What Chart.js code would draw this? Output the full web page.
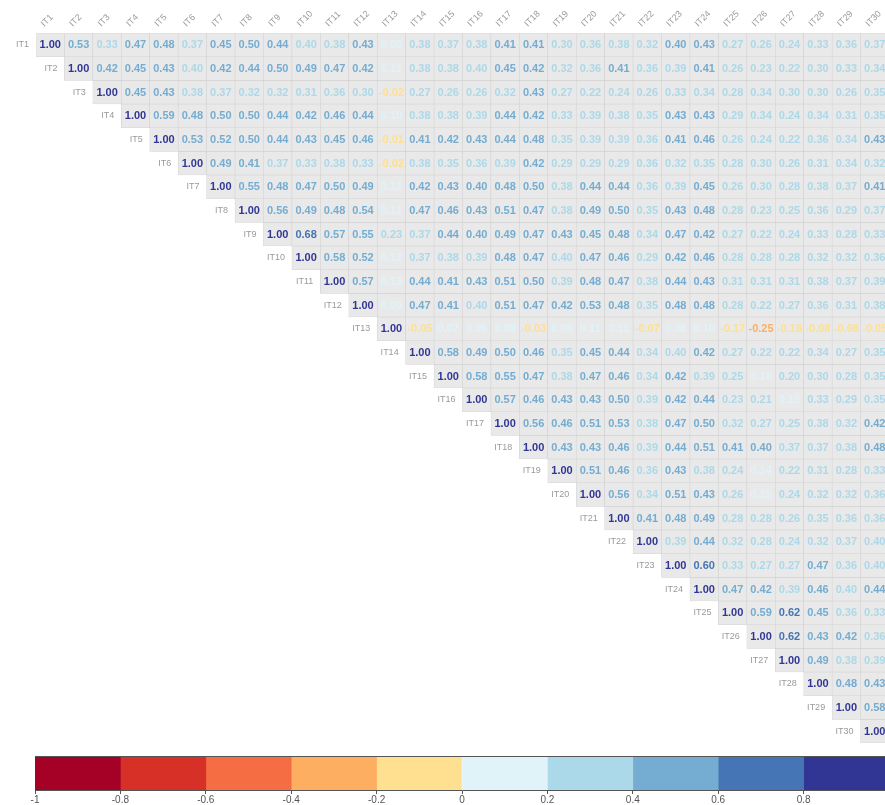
<!DOCTYPE html>
<html>
<head>
<meta charset="utf-8">
<script src="https://cdn.jsdelivr.net/npm/chart.js@4.4.1/dist/chart.umd.min.js"></script>
<style>
    html, body { margin: 0; padding: 0; background: #fff; overflow: hidden; }
    #wrap { position: relative; width: 885px; height: 805px; overflow: hidden; }
    .box { position: absolute; left: 0; }
</style>
</head>
<body>
<div id="wrap">
    <div class="box" style="top:0"><canvas id="corr" width="920" height="748"></canvas></div>
    <div class="box" style="top:745px"><canvas id="legend" width="920" height="60"></canvas></div>
</div>
<script>
// item names
var names = [];
for (var n = 1; n <= 30; n++) names.push("IT" + n);

// upper triangle, each row starts at its own diagonal
var it1 = [1.00, 0.53, 0.33, 0.47, 0.48, 0.37, 0.45, 0.50, 0.44, 0.396, 0.38, 0.43, 0.05, 0.38, 0.37, 0.38, 0.41, 0.41, 0.30, 0.36, 0.38, 0.32, 0.40, 0.43, 0.27, 0.26, 0.24, 0.33, 0.36, 0.37];
var it2 = [1.00, 0.42, 0.45, 0.43, 0.396, 0.42, 0.44, 0.50, 0.49, 0.47, 0.42, 0.11, 0.38, 0.38, 0.396, 0.45, 0.42, 0.32, 0.36, 0.41, 0.36, 0.39, 0.41, 0.26, 0.23, 0.22, 0.30, 0.33, 0.34];
var it3 = [1.00, 0.45, 0.43, 0.38, 0.37, 0.32, 0.32, 0.31, 0.36, 0.30, -0.02, 0.27, 0.26, 0.26, 0.32, 0.43, 0.27, 0.22, 0.24, 0.26, 0.33, 0.34, 0.28, 0.34, 0.30, 0.30, 0.26, 0.35];
var it4 = [1.00, 0.59, 0.48, 0.50, 0.50, 0.44, 0.42, 0.46, 0.44, 0.10, 0.38, 0.38, 0.39, 0.44, 0.42, 0.33, 0.39, 0.38, 0.35, 0.43, 0.43, 0.29, 0.34, 0.24, 0.34, 0.31, 0.35];
var it5 = [1.00, 0.53, 0.52, 0.50, 0.44, 0.43, 0.45, 0.46, -0.01, 0.41, 0.42, 0.43, 0.44, 0.48, 0.35, 0.39, 0.39, 0.36, 0.41, 0.46, 0.26, 0.24, 0.22, 0.36, 0.34, 0.43];
var it6 = [1.00, 0.49, 0.41, 0.37, 0.33, 0.38, 0.33, -0.02, 0.38, 0.35, 0.36, 0.39, 0.42, 0.29, 0.29, 0.29, 0.36, 0.32, 0.35, 0.28, 0.30, 0.26, 0.31, 0.34, 0.32];
var it7 = [1.00, 0.55, 0.48, 0.47, 0.50, 0.49, 0.12, 0.42, 0.43, 0.40, 0.48, 0.50, 0.38, 0.44, 0.44, 0.36, 0.39, 0.45, 0.26, 0.30, 0.28, 0.38, 0.37, 0.41];
var it8 = [1.00, 0.56, 0.49, 0.48, 0.54, 0.11, 0.47, 0.46, 0.43, 0.51, 0.47, 0.38, 0.49, 0.50, 0.35, 0.43, 0.48, 0.28, 0.23, 0.25, 0.36, 0.29, 0.37];
var it9 = [1.00, 0.68, 0.57, 0.55, 0.23, 0.37, 0.44, 0.40, 0.49, 0.47, 0.43, 0.45, 0.48, 0.34, 0.47, 0.42, 0.27, 0.22, 0.24, 0.33, 0.28, 0.33];
var it10 = [1.00, 0.58, 0.52, 0.12, 0.37, 0.38, 0.39, 0.48, 0.47, 0.396, 0.47, 0.46, 0.29, 0.42, 0.46, 0.28, 0.28, 0.28, 0.32, 0.32, 0.36];
var it11 = [1.00, 0.57, 0.13, 0.44, 0.41, 0.43, 0.51, 0.50, 0.39, 0.48, 0.47, 0.38, 0.44, 0.43, 0.31, 0.31, 0.31, 0.38, 0.37, 0.39];
var it12 = [1.00, 0.09, 0.47, 0.41, 0.396, 0.51, 0.47, 0.42, 0.53, 0.48, 0.35, 0.48, 0.48, 0.28, 0.22, 0.27, 0.36, 0.31, 0.38];
var it13 = [1.00, -0.05, 0.07, 0.05, 0.09, -0.03, 0.06, 0.11, 0.11, -0.07, 0.08, 0.10, -0.17, -0.25, -0.18, -0.08, -0.08, -0.05];
var it14 = [1.00, 0.58, 0.49, 0.50, 0.46, 0.35, 0.45, 0.44, 0.34, 0.396, 0.42, 0.27, 0.22, 0.22, 0.34, 0.27, 0.35];
var it15 = [1.00, 0.58, 0.55, 0.47, 0.38, 0.47, 0.46, 0.34, 0.42, 0.39, 0.25, 0.16, 0.20, 0.30, 0.28, 0.35];
var it16 = [1.00, 0.57, 0.46, 0.43, 0.43, 0.50, 0.39, 0.42, 0.44, 0.23, 0.21, 0.15, 0.33, 0.29, 0.35];
var it17 = [1.00, 0.56, 0.46, 0.51, 0.53, 0.38, 0.47, 0.50, 0.32, 0.27, 0.25, 0.38, 0.32, 0.42];
var it18 = [1.00, 0.43, 0.43, 0.46, 0.39, 0.44, 0.51, 0.41, 0.40, 0.37, 0.37, 0.38, 0.48];
var it19 = [1.00, 0.51, 0.46, 0.36, 0.43, 0.38, 0.24, 0.14, 0.22, 0.31, 0.28, 0.33];
var it20 = [1.00, 0.56, 0.34, 0.51, 0.43, 0.26, 0.15, 0.24, 0.32, 0.32, 0.36];
var it21 = [1.00, 0.41, 0.48, 0.49, 0.28, 0.28, 0.26, 0.35, 0.36, 0.36];
var it22 = [1.00, 0.39, 0.44, 0.32, 0.28, 0.24, 0.32, 0.37, 0.396];
var it23 = [1.00, 0.60, 0.33, 0.27, 0.27, 0.47, 0.36, 0.396];
var it24 = [1.00, 0.47, 0.42, 0.39, 0.46, 0.396, 0.44];
var it25 = [1.00, 0.59, 0.62, 0.45, 0.36, 0.33];
var it26 = [1.00, 0.62, 0.43, 0.42, 0.36];
var it27 = [1.00, 0.49, 0.38, 0.39];
var it28 = [1.00, 0.48, 0.43];
var it29 = [1.00, 0.58];
var it30 = [1.00];

// colour scale, -1 .. 1 in steps of 0.2
var legendBreaks = [-1, -0.8, -0.6, -0.4, -0.2, 0, 0.2, 0.4, 0.6, 0.8, 1];
var palette = ["#A50026", "#D73027", "#F46D43", "#FDAE61", "#FEE090", "#E0F3F8", "#ABD9E9", "#74ADD1", "#4575B4", "#313695"];

var rows = [it1, it2, it3, it4, it5, it6, it7, it8, it9, it10, it11, it12, it13, it14, it15,
    it16, it17, it18, it19, it20, it21, it22, it23, it24, it25, it26, it27, it28, it29, it30];

function colorFor(v) {
    var idx = Math.floor((v + 1) * 5 + 1e-9);
    if (idx > 9) idx = 9;
    if (idx < 0) idx = 0;
    return palette[idx];
}

var FONT = "'Liberation Sans', Arial, sans-serif";

// one floating-bar dataset per row, bars span that row on the y scale
var datasets = [];
rows.forEach(function (row, i) {
    var data = names.map(function (_, j) {
        return j < i ? null : [i + 0.5, i + 1.5];
    });
    datasets.push({
        label: names[i],
        data: data,
        backgroundColor: "#E9E9E9",
        borderColor: "#D2D2D2",
        borderWidth: 0.6,
        borderSkipped: false,
        grouped: false,
        barPercentage: 1,
        categoryPercentage: 1
    });
});

var cellText = {
    id: "cellText",
    afterDatasetsDraw: function (chart) {
        var ctx = chart.ctx;
        ctx.save();
        ctx.textBaseline = "middle";
        chart.data.datasets.forEach(function (ds, i) {
            var meta = chart.getDatasetMeta(i);
            var row = rows[i];
            meta.data.forEach(function (el, j) {
                if (j < i) return;
                var v = row[j - i];
                var cy = (el.y + el.base) / 2;
                ctx.font = "bold 11px " + FONT;
                ctx.textAlign = "center";
                ctx.fillStyle = colorFor(v);
                ctx.fillText(v.toFixed(2), el.x, cy + 0.5);
                if (j == i) {
                    ctx.font = "9px " + FONT;
                    ctx.textAlign = "right";
                    ctx.fillStyle = "#9a9a9a";
                    ctx.fillText(names[i], el.x - el.width / 2 - 7, cy);
                }
            });
        });
        ctx.restore();
    }
};

new Chart(document.getElementById("corr"), {
    type: "bar",
    data: { labels: names, datasets: datasets },
    plugins: [cellText],
    options: {
        responsive: false,
        animation: false,
        layout: { padding: { left: 36, right: 31, top: 0, bottom: 5 } },
        plugins: { legend: { display: false }, tooltip: { enabled: false } },
        scales: {
            x: {
                position: "top",
                grid: { display: false, drawTicks: false },
                border: { display: false },
                ticks: {
                    autoSkip: false,
                    minRotation: 45,
                    maxRotation: 45,
                    padding: 4,
                    color: "#9a9a9a",
                    font: { size: 9, family: FONT }
                },
                afterFit: function (s) { s.height = 33; }
            },
            y: {
                type: "linear",
                reverse: true,
                min: 0.5,
                max: 30.5,
                display: false
            }
        }
    }
});

// colour legend under the matrix
var legendSets = palette.map(function (c, k) {
    return {
        data: [[legendBreaks[k], legendBreaks[k + 1]]],
        backgroundColor: c,
        borderWidth: 0,
        grouped: false,
        barPercentage: 1,
        categoryPercentage: 1
    };
});

var legendFrame = {
    id: "legendFrame",
    afterDatasetsDraw: function (chart) {
        var a = chart.chartArea, ctx = chart.ctx;
        ctx.save();
        ctx.strokeStyle = "#555";
        ctx.lineWidth = 1;
        ctx.beginPath();
        ctx.moveTo(a.left, a.top + 0.5);
        ctx.lineTo(a.right, a.top + 0.5);
        ctx.stroke();
        ctx.restore();
    }
};

new Chart(document.getElementById("legend"), {
    type: "bar",
    data: { labels: [""], datasets: legendSets },
    plugins: [legendFrame],
    options: {
        indexAxis: "y",
        responsive: false,
        animation: false,
        layout: { padding: { left: 35, right: 31, top: 11, bottom: 0 } },
        plugins: { legend: { display: false }, tooltip: { enabled: false } },
        scales: {
            x: {
                type: "linear",
                min: -1,
                max: 1,
                grid: { drawOnChartArea: false, tickLength: 4, color: "#555" },
                border: { display: true, color: "#555" },
                ticks: {
                    stepSize: 0.2,
                    padding: 0,
                    color: "#555",
                    font: { size: 10, family: FONT },
                    callback: function (v) { return String(Number(v.toFixed(1))); }
                },
                afterFit: function (s) { s.height = 15; }
            },
            y: { display: false }
        }
    }
});
</script>
</body>
</html>
